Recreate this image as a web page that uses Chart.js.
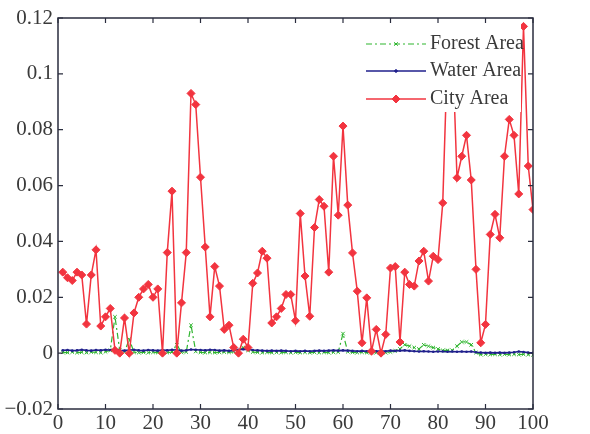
<!DOCTYPE html>
<html><head><meta charset="utf-8">
<script src="https://cdn.jsdelivr.net/npm/chart.js@4.4.0/dist/chart.umd.min.js"></script>
<style>html,body{margin:0;padding:0;background:#fff;}#wrap{width:590px;height:434px;}</style>
</head><body><div id="wrap"><canvas id="c" width="590" height="434"></canvas></div>
<script>
const seriesNames = ['Forest Area', 'Water Area', 'City Area'];
const xValues = [1,2,3,4,5,6,7,8,9,10,11,12,13,14,15,16,17,18,19,20,21,22,23,24,25,26,27,28,29,30,31,32,33,34,35,36,37,38,39,40,41,42,43,44,45,46,47,48,49,50,51,52,53,54,55,56,57,58,59,60,61,62,63,64,65,66,67,68,69,70,71,72,73,74,75,76,77,78,79,80,81,82,83,84,85,86,87,88,89,90,91,92,93,94,95,96,97,98,99,100];
const xTicks = [0,10,20,30,40,50,60,70,80,90,100];
const xTickLabels = ['0','10','20','30','40','50','60','70','80','90','100'];
const yTicks = [-0.02,0,0.02,0.04,0.06,0.08,0.1,0.12];
const yTickLabels = ['\u22120.02','0','0.02','0.04','0.06','0.08','0.1','0.12'];
const forest = [
0.0003,0.0002,0.0004,0.0002,0.0003,0.0002,0.0004,0.0003,0.0002,0.0005,
0.001,0.013,0.001,0.0004,0.005,0.0003,0.0002,0.0003,0.0002,0.0003,
0.0002,0.0003,0.0002,0.0004,0.003,0.0003,0.0004,0.010,0.0006,0.0003,
0.0002,0.0003,0.0002,0.0003,0.0004,0.0003,0.0005,0.001,0.002,0.001,
0.0004,0.0003,0.0002,0.0003,0.0002,0.0003,0.0002,0.0003,0.0002,0.0003,
0.0002,0.0003,0.0002,0.0003,0.0002,0.0003,0.0002,0.0003,0.0004,0.007,
0.0005,0.0003,0.0002,0.0003,0.0002,0.0003,0.0002,0.0003,0.0002,0.0004,
0.0008,0.0015,0.003,0.0025,0.002,0.0015,0.003,0.0025,0.002,0.0015,
0.001,0.001,0.001,0.0025,0.004,0.004,0.003,0.0002,-0.0005,-0.0004,
-0.0005,-0.0004,-0.0005,-0.0004,-0.0005,-0.0004,-0.0005,-0.0004,-0.0005,-0.0006];
const water = [
0.0010,0.0011,0.0009,0.0010,0.0012,0.0010,0.0009,0.0011,0.0010,0.0012,
0.0011,0.0013,0.0010,0.0009,0.0011,0.0012,0.0010,0.0009,0.0011,0.0010,
0.0009,0.0011,0.0010,0.0012,0.0011,0.0009,0.0010,0.0013,0.0012,0.0011,
0.0010,0.0012,0.0011,0.0009,0.0010,0.0008,0.0010,0.0012,0.0014,0.0013,
0.0011,0.0010,0.0009,0.0008,0.0009,0.0008,0.0009,0.0008,0.0007,0.0008,
0.0007,0.0008,0.0007,0.0008,0.0009,0.0008,0.0009,0.0010,0.0009,0.0010,
0.0009,0.0008,0.0007,0.0008,0.0007,0.0008,0.0007,0.0008,0.0007,0.0009,
0.0008,0.0009,0.0010,0.0008,0.0007,0.0006,0.0007,0.0006,0.0005,0.0006,
0.0006,0.0005,0.0006,0.0005,0.0006,0.0005,0.0006,0.0003,0.0002,0.0001,
0.0002,0.0001,0.0002,0.0001,0.0002,0.0003,0.0006,0.0004,0.0002,0.0001];
const city = [
0.029,0.027,0.026,0.029,0.028,0.0104,0.028,0.037,0.0097,0.013,
0.016,0.001,0.0,0.0126,0.0,0.0144,0.020,0.023,0.0246,0.020,
0.023,0.0,0.036,0.058,0.0,0.018,0.036,0.093,0.089,0.063,
0.038,0.013,0.031,0.024,0.0085,0.010,0.002,0.0,0.005,0.002,
0.025,0.0287,0.0365,0.034,0.0108,0.013,0.016,0.021,0.021,0.0116,
0.050,0.0276,0.0132,0.045,0.055,0.0526,0.029,0.0705,0.0494,0.0813,
0.053,0.0359,0.0222,0.0037,0.0198,0.0007,0.0085,0.0,0.0067,0.0305,
0.031,0.004,0.029,0.0246,0.024,0.033,0.0365,0.0258,0.0347,0.0335,
0.0538,0.108,0.112,0.0628,0.0705,0.078,0.062,0.030,0.0037,0.0103,
0.0425,0.0497,0.0413,0.0705,0.0837,0.078,0.057,0.117,0.067,0.0514];

const toPts = arr => xValues.map((x, i) => ({x: x, y: arr[i]}));
const SERIF = '"Liberation Serif", "DejaVu Serif", serif';
const TEXT = '#3a3a3a';
const AXIS = '#2a2d3e';

const matlabPlugin = {
  id: 'matlabPlugin',
  afterDatasetsDraw(chart) {
    const ctx = chart.ctx, a = chart.chartArea;
    const ds = chart.data.datasets;
    ctx.save();
    // legend background (covers data like a MATLAB legend)
    const lx = a.left + 304, ly = a.top + 1, lw = 159, lh = 93;
    ctx.fillStyle = '#ffffff';
    ctx.fillRect(lx, ly, lw, lh);
    const rows = [a.top + 26, a.top + 53, a.top + 81];
    [0, 1, 2].forEach((di, r) => {
      const d = ds[di];
      const y = rows[r];
      const x0 = lx + 4, x1 = lx + 64, xm = lx + 34;
      ctx.strokeStyle = d.borderColor;
      ctx.lineWidth = d.borderWidth;
      ctx.setLineDash(d.borderDash || []);
      ctx.beginPath(); ctx.moveTo(x0, y); ctx.lineTo(x1, y); ctx.stroke();
      ctx.setLineDash([]);
      ctx.fillStyle = d.pointBackgroundColor;
      ctx.strokeStyle = d.pointBorderColor;
      ctx.lineWidth = 1;
      Chart.helpers.drawPoint(ctx, {pointStyle: d.pointStyle, radius: d.pointRadius, borderWidth: 1, rotation: 0}, xm, y);
      ctx.fillStyle = TEXT;
      ctx.font = '20px ' + SERIF;
      ctx.textAlign = 'left';
      ctx.textBaseline = 'middle';
      ctx.fillText(seriesNames[di], lx + 68, y);
    });
    ctx.restore();
  },
  afterDraw(chart) {
    const ctx = chart.ctx, a = chart.chartArea;
    const xs = chart.scales.x, ys = chart.scales.y;
    ctx.save();
    ctx.strokeStyle = AXIS;
    ctx.lineWidth = 1.5;
    ctx.setLineDash([]);
    ctx.strokeRect(a.left, a.top, a.right - a.left, a.bottom - a.top);
    ctx.lineWidth = 1.2;
    const tl = 5;
    ctx.beginPath();
    xTicks.forEach(v => {
      const p = xs.getPixelForValue(v);
      ctx.moveTo(p, a.bottom); ctx.lineTo(p, a.bottom - tl);
      ctx.moveTo(p, a.top); ctx.lineTo(p, a.top + tl);
    });
    yTicks.forEach(v => {
      const p = ys.getPixelForValue(v);
      ctx.moveTo(a.left, p); ctx.lineTo(a.left + tl, p);
      ctx.moveTo(a.right, p); ctx.lineTo(a.right - tl, p);
    });
    ctx.stroke();
    ctx.restore();
  }
};

new Chart(document.getElementById('c'), {
  type: 'line',
  data: {
    datasets: [
      {label: seriesNames[0], data: toPts(forest), order: 2,
       borderColor: '#2fb52f', borderWidth: 1.2, borderDash: [6, 3, 2, 3],
       pointStyle: 'crossRot', pointRadius: 2.5, pointBorderColor: '#2fb52f', pointBackgroundColor: '#2fb52f', pointBorderWidth: 1,
       tension: 0},
      {label: seriesNames[1], data: toPts(water), order: 1,
       borderColor: '#1f1f8c', borderWidth: 1.6,
       pointStyle: 'circle', pointRadius: 1.3, pointBorderColor: '#1f1f8c', pointBackgroundColor: '#1f1f8c', pointBorderWidth: 0,
       tension: 0},
      {label: seriesNames[2], data: toPts(city), order: 0,
       borderColor: '#f2343f', borderWidth: 1.5,
       pointStyle: 'rectRot', pointRadius: 4, pointBorderColor: '#f2343f', pointBackgroundColor: '#f2343f', pointBorderWidth: 1,
       tension: 0}
    ]
  },
  options: {
    responsive: false,
    animation: false,
    devicePixelRatio: 1,
    layout: {padding: {top: 18, right: 57, left: 0, bottom: 0}},
    plugins: {legend: {display: false}, tooltip: {enabled: false}},
    scales: {
      x: {
        type: 'linear', min: 0, max: 100,
        afterBuildTicks: s => { s.ticks = xTicks.map(v => ({value: v})); },
        afterFit: s => { s.height = 25; },
        grid: {display: false, drawTicks: false},
        border: {display: false},
        ticks: {font: {family: SERIF, size: 21}, color: TEXT, padding: 2, maxRotation: 0,
                callback: (v, i) => xTickLabels[i]}
      },
      y: {
        type: 'linear', min: -0.02, max: 0.12,
        afterBuildTicks: s => { s.ticks = yTicks.map(v => ({value: v})); },
        afterFit: s => { s.width = 58; },
        grid: {display: false, drawTicks: false},
        border: {display: false},
        ticks: {font: {family: SERIF, size: 21}, color: TEXT, padding: 5,
                callback: (v, i) => yTickLabels[i]}
      }
    }
  },
  plugins: [matlabPlugin]
});
</script>
</body></html>
